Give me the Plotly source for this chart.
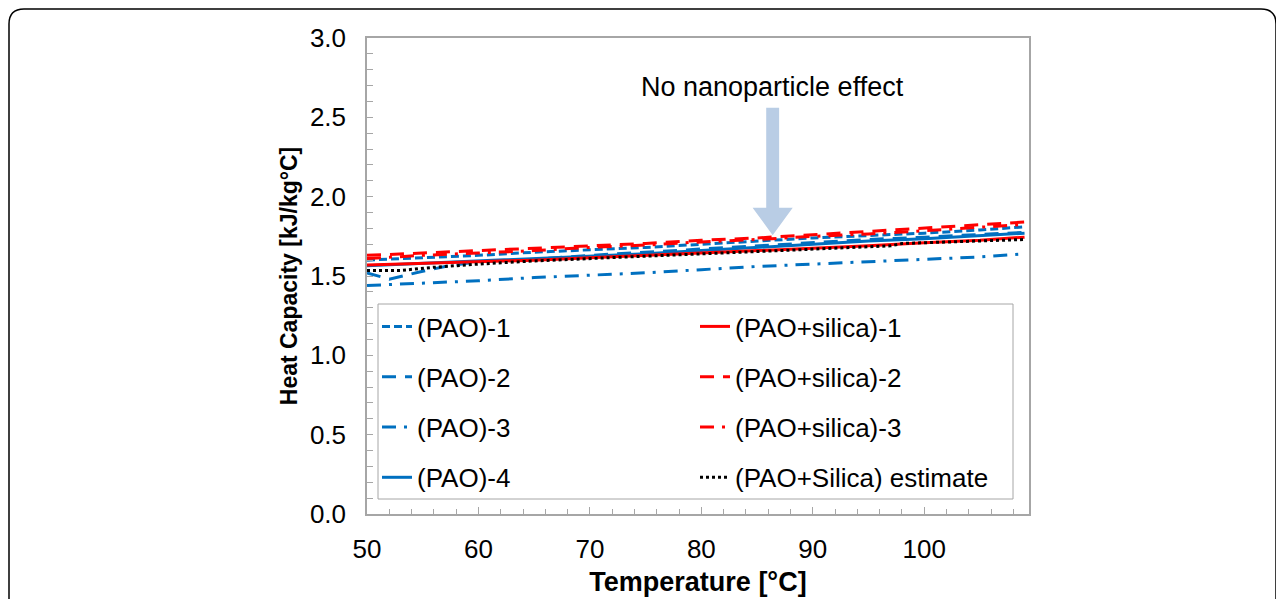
import plotly.graph_objects as go

# ---------------- data ----------------
temp = [50, 55, 60, 65, 70, 75, 80, 85, 90, 95, 100, 105, 109]

pao_1 = [1.60, 1.615, 1.63, 1.65, 1.665, 1.68, 1.70, 1.72, 1.74, 1.755, 1.77, 1.79, 1.81]
pao_2_temp = [50, 52, 55, 57, 60, 65, 70, 75, 80, 85, 90, 95, 100, 105, 109]
pao_2 = [1.52, 1.48, 1.53, 1.56, 1.59, 1.605, 1.63, 1.65, 1.67, 1.69, 1.71, 1.73, 1.745, 1.76, 1.775]
pao_3 = [1.44, 1.455, 1.47, 1.49, 1.505, 1.52, 1.54, 1.56, 1.575, 1.59, 1.605, 1.62, 1.64]
pao_4 = [1.565, 1.58, 1.595, 1.61, 1.625, 1.64, 1.66, 1.68, 1.70, 1.72, 1.735, 1.755, 1.77]

sil_1 = [1.57, 1.58, 1.59, 1.60, 1.615, 1.63, 1.645, 1.66, 1.675, 1.69, 1.71, 1.725, 1.745]
sil_2 = [1.63, 1.645, 1.66, 1.675, 1.69, 1.705, 1.725, 1.74, 1.76, 1.78, 1.80, 1.82, 1.84]
sil_3 = [1.61, 1.63, 1.645, 1.66, 1.68, 1.695, 1.715, 1.73, 1.75, 1.765, 1.785, 1.805, 1.825]

est_temp = [50, 53, 56, 60, 65, 70, 75, 80, 85, 90, 95, 97, 98, 100, 105, 109]
est = [1.535, 1.535, 1.555, 1.575, 1.595, 1.61, 1.625, 1.64, 1.655, 1.67, 1.685, 1.69, 1.705, 1.71, 1.72, 1.73]

y_ticks = [0.0, 0.5, 1.0, 1.5, 2.0, 2.5, 3.0]
x_ticks = [50, 60, 70, 80, 90, 100]

BLUE = "#0070C0"
RED = "#FF0000"
FONT = "Liberation Sans, Arial, sans-serif"

OFF = 8  # page body margin
W, H = 1284 - OFF, 599
L, R, T, B = 367, 1029, 38, 514  # plot area in screen pixels


def px(x):
    return (x - L) / (R - L)


def py(y):
    return (B - y) / (B - T)


fig = go.Figure()

series = [
    ("(PAO)-1", temp, pao_1, BLUE, "8px,4px", 3, "legend"),
    ("(PAO)-2", pao_2_temp, pao_2, BLUE, "14px,9px", 3, "legend"),
    ("(PAO)-3", temp, pao_3, BLUE, "14px,8px,3px,8px", 3, "legend"),
    ("(PAO)-4", temp, pao_4, BLUE, "solid", 3, "legend"),
    ("(PAO+silica)-1", temp, sil_1, RED, "solid", 3, "legend2"),
    ("(PAO+silica)-2", temp, sil_2, RED, "14px,9px", 3, "legend2"),
    ("(PAO+silica)-3", temp, sil_3, RED, "14px,8px,3px,8px", 3, "legend2"),
    ("(PAO+Silica) estimate", est_temp, est, "#000000", "3px,3px", 3, "legend2"),
]

for i, (name, xs, ys, col, dash, w, leg) in enumerate(series):
    fig.add_trace(go.Scatter(
        x=xs, y=ys, name=name, mode="lines",
        line=dict(color=col, dash=dash, width=w),
        legend=leg, legendgroup=f"g{i}",
    ))

axis_common = dict(
    showline=True, linecolor="#A6A6A6", linewidth=1.5, mirror=True,
    showgrid=False, zeroline=False, ticks="inside", tickcolor="#A6A6A6",
    tickfont=dict(family=FONT, size=26, color="#000000"), automargin=False,
)

fig.update_xaxes(
    range=[50, 109.4], tickvals=x_ticks, ticklen=7, tickwidth=1,
    minor=dict(ticks="inside", dtick=2, ticklen=5, tickcolor="#A6A6A6"),
    ticklabelstandoff=11,
    title=dict(text="<b>Temperature [°C]</b>", font=dict(family=FONT, size=27, color="#000000"), standoff=9),
    **axis_common,
)
fig.update_yaxes(
    range=[0, 3.0], tickvals=y_ticks, tickformat=".1f", ticklen=6, tickwidth=1,
    minor=dict(ticks="inside", dtick=0.1, ticklen=6, tickcolor="#A6A6A6"),
    ticklabelstandoff=14,
    title=dict(text="<b>Heat Capacity [kJ/kg°C]</b>", font=dict(family=FONT, size=23, color="#000000"), standoff=6),
    **axis_common,
)

# legend frame
fig.add_shape(type="rect", xref="paper", yref="paper",
              x0=px(378), x1=px(1013), y0=py(499), y1=py(304),
              line=dict(color="#A6A6A6", width=1), fillcolor="white", layer="below")

leg_common = dict(
    font=dict(family=FONT, size=26, color="#000000"),
    bgcolor="rgba(0,0,0,0)", borderwidth=0, tracegroupgap=13.5,
    xanchor="left", yanchor="top", orientation="v",
)

# arrow shape (block arrow)
ax_c = 86.4
fig.add_shape(type="path", xref="x", yref="y",
              path=(f"M {ax_c-0.58},2.56 L {ax_c+0.58},2.56 L {ax_c+0.58},1.93 "
                    f"L {ax_c+1.8},1.93 L {ax_c},1.757 L {ax_c-1.8},1.93 "
                    f"L {ax_c-0.58},1.93 Z"),
              fillcolor="#B9CDE5", line=dict(width=0), layer="above")

fig.add_annotation(x=86.4, y=2.69, xref="x", yref="y", text="No nanoparticle effect",
                   showarrow=False, font=dict(family=FONT, size=27, color="#000000"))

# outer rounded frame
rr = 15
x0f, y0f, x1f, y1f = 9, 9, 1276, 640
fig.add_shape(type="path", xref="paper", yref="paper",
              path=(f"M {px(x0f)},{py(y1f)} L {px(x0f)},{py(y0f+rr)} "
                    f"Q {px(x0f)},{py(y0f)} {px(x0f+rr)},{py(y0f)} "
                    f"L {px(x1f-rr)},{py(y0f)} Q {px(x1f)},{py(y0f)} {px(x1f)},{py(y0f+rr)} "
                    f"L {px(x1f)},{py(y1f)}"),
              line=dict(color="#000000", width=1.5))

fig.update_layout(
    width=W, height=H,
    margin=dict(l=L - OFF, r=(1284 - OFF) - (R - OFF), t=T - OFF, b=H - (B - OFF)),
    paper_bgcolor="white", plot_bgcolor="white",
    showlegend=True,
    legend=dict(x=px(377), y=py(303), **leg_common),
    legend2=dict(x=px(695), y=py(303), **leg_common),
)

fig.write_html("out.html")
